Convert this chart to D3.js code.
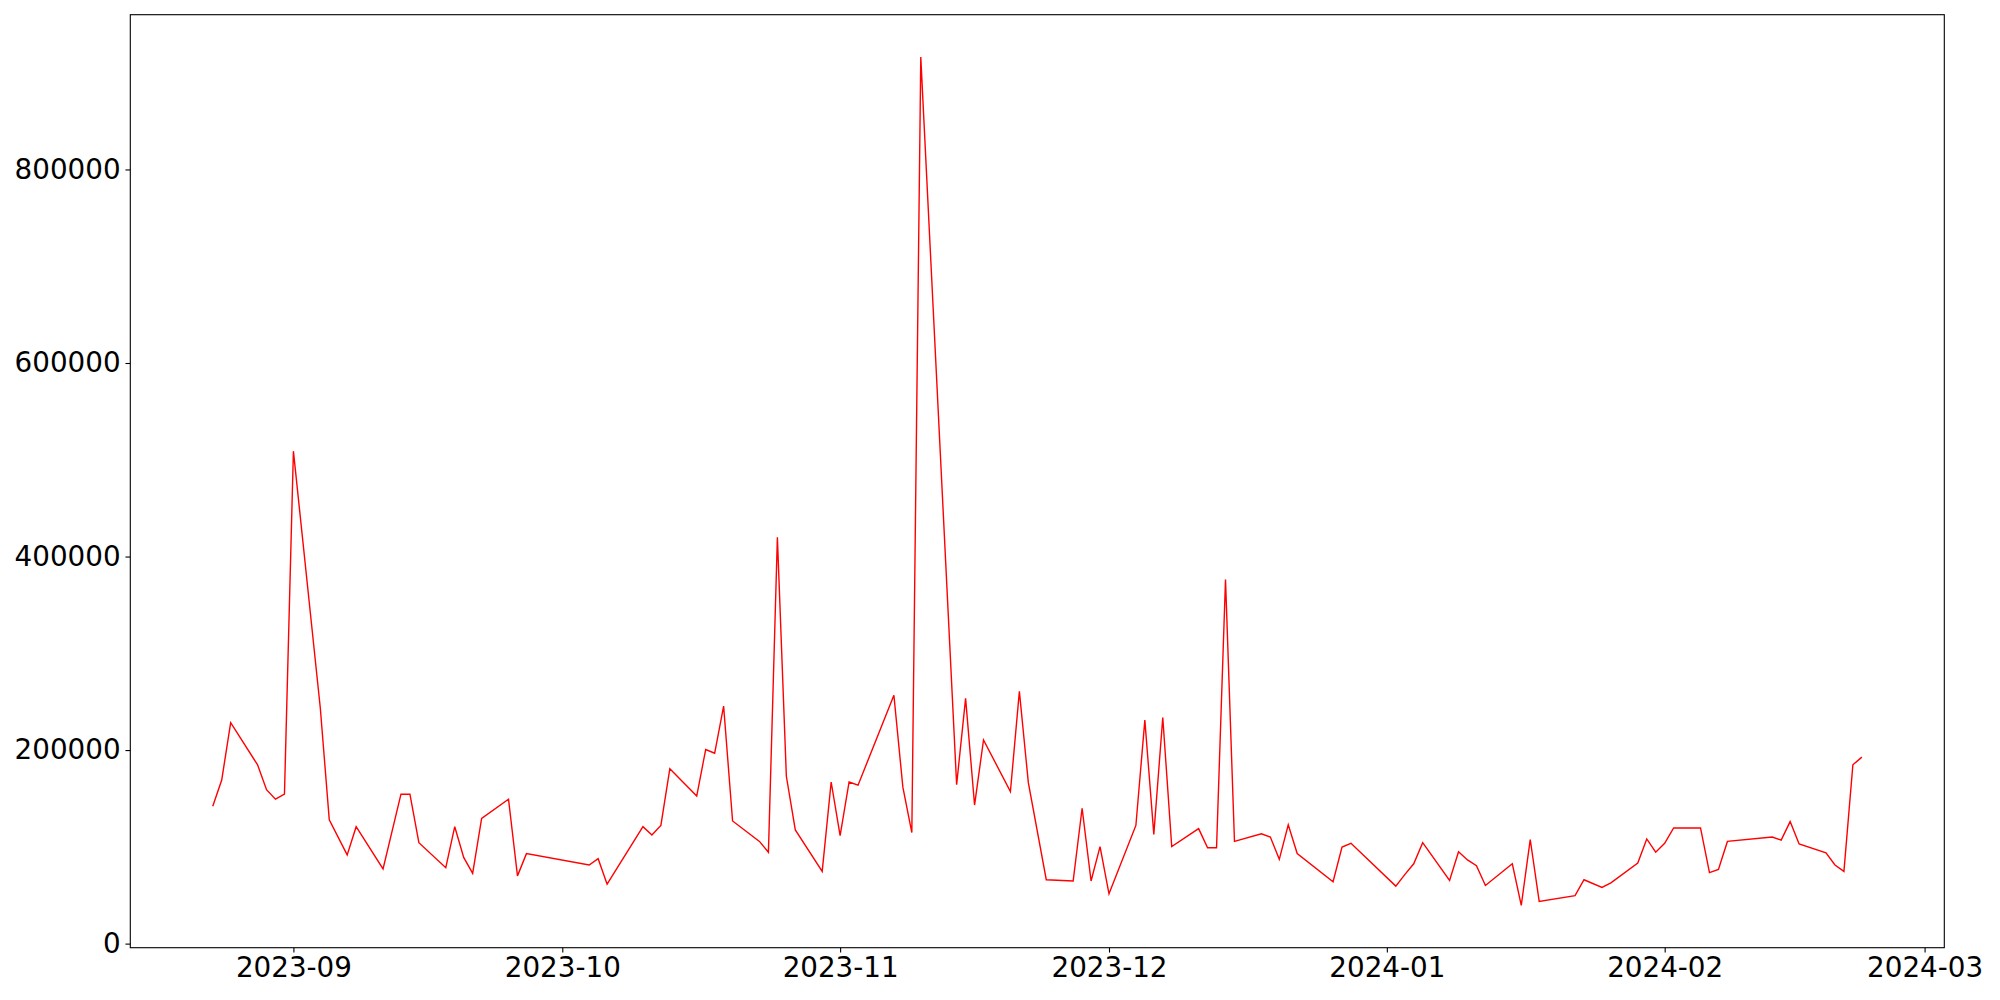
<!DOCTYPE html>
<html>
<head>
<meta charset="utf-8">
<script src="https://cdn.jsdelivr.net/npm/d3@7"></script>
<style>
  html, body { margin: 0; padding: 0; background: #fff; }
  svg { display: block; }
  .tick text { font-family: "DejaVu Sans", sans-serif; font-size: 27.78px; fill: #000; }
</style>
</head>
<body>
<svg id="chart" width="2000" height="1000"></svg>
<script>
// trading days (weekdays with gaps) and daily values
var dates = [
  "2023-08-23","2023-08-24","2023-08-25","2023-08-28","2023-08-29","2023-08-30","2023-08-31",
  "2023-09-01","2023-09-04","2023-09-05","2023-09-07","2023-09-08","2023-09-11","2023-09-13",
  "2023-09-14","2023-09-15","2023-09-18","2023-09-19","2023-09-20","2023-09-21","2023-09-22",
  "2023-09-25","2023-09-26","2023-09-27","2023-10-04","2023-10-05","2023-10-06","2023-10-10",
  "2023-10-11","2023-10-12","2023-10-13","2023-10-16","2023-10-17","2023-10-18","2023-10-19",
  "2023-10-20","2023-10-23","2023-10-24","2023-10-25","2023-10-26","2023-10-27","2023-10-30",
  "2023-10-31","2023-11-01","2023-11-02","2023-11-03","2023-11-07","2023-11-08","2023-11-09",
  "2023-11-10","2023-11-14","2023-11-15","2023-11-16","2023-11-17","2023-11-20","2023-11-21",
  "2023-11-22","2023-11-24","2023-11-27","2023-11-28","2023-11-29","2023-11-30","2023-12-01",
  "2023-12-04","2023-12-05","2023-12-06","2023-12-07","2023-12-08","2023-12-11","2023-12-12",
  "2023-12-13","2023-12-14","2023-12-15","2023-12-18","2023-12-19","2023-12-20","2023-12-21",
  "2023-12-22","2023-12-26","2023-12-27","2023-12-28","2024-01-02","2024-01-03","2024-01-04",
  "2024-01-05","2024-01-08","2024-01-09","2024-01-10","2024-01-11","2024-01-12","2024-01-15",
  "2024-01-16","2024-01-17","2024-01-18","2024-01-22","2024-01-23","2024-01-25","2024-01-26",
  "2024-01-29","2024-01-30","2024-01-31","2024-02-01","2024-02-02","2024-02-05","2024-02-06",
  "2024-02-07","2024-02-08","2024-02-13","2024-02-14","2024-02-15","2024-02-16","2024-02-19",
  "2024-02-20","2024-02-21","2024-02-22","2024-02-23"
];
var values = [
  141900,169000,228400,184800,159000,149200,154400,
  508900,243500,128000,91700,120800,77200,154400,
  154400,104300,78500,120800,89100,72600,129400,
  149200,70000,93000,81200,87800,61400,120800,
  112200,122100,180800,152500,200600,196700,245500,
  126700,105600,94400,419800,172900,117500,74600,
  167000,111500,167000,163700,256700,161700,114800,
  916100,164300,253400,143200,210500,157100,260700,
  166300,66000,64700,139900,64700,100300,51500,
  122100,231000,112900,233600,100300,118800,99000,
  99000,376200,105600,113500,110200,87100,122800,
  93100,64000,99700,103600,59400,71300,82500,
  104300,65300,95000,86500,80500,60100,82500,
  39600,107600,43600,49500,66000,58100,62700,
  83200,108200,94400,103600,119500,119500,73300,
  76600,105600,110200,106900,126100,103000,93700,
  81200,74600,184800,192700
];
var yTicks = [0, 200000, 400000, 600000, 800000];
var xTickLabels = ["2023-09","2023-10","2023-11","2023-12","2024-01","2024-02","2024-03"];

// plot area (window.top is reserved, so prefixed names)
var axL = 130.3, axR = 1944.3, axT = 14.7, axB = 947.7;
var parse = d3.utcParse("%Y-%m-%d");
var pts = dates.map(function(d, i){ return {t: parse(d), v: values[i]}; });

// matplotlib style 5% margins
var tExt = d3.extent(pts, function(d){ return +d.t; });
var tPad = (tExt[1] - tExt[0]) * 0.05;
var vExt = d3.extent(values);
var vPad = (vExt[1] - vExt[0]) * 0.05;

var x = d3.scaleUtc().domain([new Date(tExt[0] - tPad), new Date(tExt[1] + tPad)]).range([axL, axR]);
var y = d3.scaleLinear().domain([vExt[0] - vPad, vExt[1] + vPad]).range([axB, axT]);

var svg = d3.select("#chart");

var line = d3.line()
  .x(function(d){ return x(d.t); })
  .y(function(d){ return y(d.v); });

svg.append("path")
  .datum(pts)
  .attr("fill", "none")
  .attr("stroke", "#ff0000")
  .attr("stroke-width", 1.4)
  .attr("stroke-linejoin", "miter")
  .attr("d", line);

var fmt = d3.utcFormat("%Y-%m");
var xTickDates = xTickLabels.map(function(s){ return d3.utcParse("%Y-%m")(s); });

var xAxis = svg.append("g")
  .attr("transform", "translate(0," + axB + ")")
  .call(d3.axisBottom(x).tickValues(xTickDates).tickFormat(fmt).tickSize(4.86).tickPadding(4.86));

var yAxis = svg.append("g")
  .attr("transform", "translate(" + axL + ",0)")
  .call(d3.axisLeft(y).tickValues(yTicks).tickFormat(d3.format("d")).tickSize(4.86).tickPadding(4.86));

[xAxis, yAxis].forEach(function(g){
  g.select(".domain").remove();
  g.selectAll(".tick line").attr("stroke", "#000").attr("stroke-width", 1.1);
});

// frame
svg.append("rect")
  .attr("x", axL).attr("y", axT)
  .attr("width", axR - axL).attr("height", axB - axT)
  .attr("fill", "none").attr("stroke", "#000").attr("stroke-width", 1.1);
</script>
</body>
</html>
